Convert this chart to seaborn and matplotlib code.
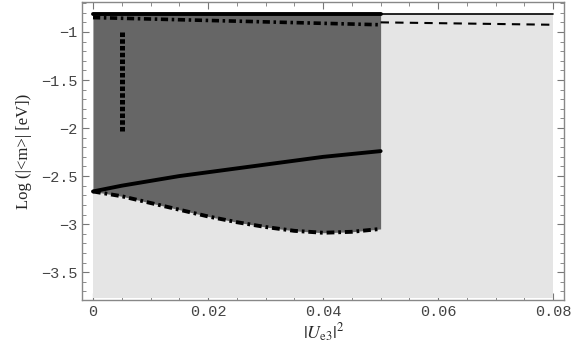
import matplotlib
matplotlib.use("Agg")
import matplotlib.pyplot as plt
import matplotlib.ticker as mticker
import pandas as pd
import seaborn as sns

# |Ue3|^2 grid for the allowed (dark) band
ue3 = [0, 0.005, 0.01, 0.015, 0.02, 0.025, 0.03, 0.035, 0.04, 0.045, 0.05]
# lower dash-dot boundary
lower_dd = [-2.66, -2.71, -2.78, -2.85, -2.92, -2.98, -3.03, -3.07, -3.09, -3.08, -3.05]
# solid line rising from the cusp
lower_solid = [-2.66, -2.60, -2.55, -2.50, -2.46, -2.42, -2.38, -2.34, -2.30, -2.27, -2.24]
# upper edges
top_edge = -0.82
top_solid_x = [0, 0.08]
top_solid_y = [-0.81, -0.81]
top_dd_x = [0, 0.05]
top_dd_y = [-0.85, -0.925]
top_dd2_x = [0.05, 0.08]
top_dd2_y = [-0.90, -0.925]
# light background band
light_x = [0, 0.08]
light_lo, light_hi = -3.77, -0.81
# dotted vertical marker
dot_x = [0.005, 0.005]
dot_y = [-1.0, -2.03]

sns.set_theme(style="ticks")
plt.rcParams['font.family'] = ['Liberation Mono', 'DejaVu Sans']
plt.rcParams['mathtext.fontset'] = 'stix'

fig = plt.figure(figsize=(5.78, 3.54), dpi=100)
ax = fig.add_axes([0.142, 0.1525, 0.834, 0.842])

ax.fill_between(light_x, light_lo, light_hi, color="#e5e5e5", lw=0)
ax.fill_between(ue3, lower_dd, top_edge, color="#666666", lw=0)

dashdot = (0, (2.0, 1.0, 0.7, 1.0))
df = pd.DataFrame({"x": ue3, "dd": lower_dd, "solid": lower_solid})
sns.lineplot(data=df, x="x", y="solid", ax=ax, color="black", lw=2.8)
sns.lineplot(data=df, x="x", y="dd", ax=ax, color="black", lw=2.8, linestyle=dashdot)
sns.lineplot(x=top_solid_x, y=top_solid_y, ax=ax, color="black", lw=1.2)
sns.lineplot(x=[0, 0.05], y=[-0.815, -0.815], ax=ax, color="black", lw=2.8)
sns.lineplot(x=top_dd_x, y=top_dd_y, ax=ax, color="black", lw=2.6, linestyle=dashdot)
sns.lineplot(x=top_dd2_x, y=top_dd2_y, ax=ax, color="black", lw=1.5,
             linestyle=(0, (4, 3)))
sns.lineplot(x=dot_x, y=dot_y, ax=ax, color="black", lw=3.6, estimator=None,
             sort=False, linestyle=(0, (0.9, 0.45)))

ax.set_xlim(-0.0019, 0.0819)
ax.set_ylim(-3.79, -0.6875)

ax.xaxis.set_major_locator(mticker.FixedLocator([0, 0.02, 0.04, 0.06, 0.08]))
ax.xaxis.set_major_formatter(mticker.FixedFormatter(["0", "0.02", "0.04", "0.06", "0.08"]))
ax.xaxis.set_minor_locator(mticker.MultipleLocator(0.005))
ax.yaxis.set_major_locator(mticker.FixedLocator([-3.5, -3, -2.5, -2, -1.5, -1]))
ax.yaxis.set_major_formatter(mticker.FixedFormatter(["\u22123.5", "\u22123", "\u22122.5", "\u22122", "\u22121.5", "\u22121"]))
ax.yaxis.set_minor_locator(mticker.MultipleLocator(0.1))

ax.tick_params(which="both", direction="in", top=True, right=True,
               color="#777777", labelcolor="#444444", labelsize=11)
ax.tick_params(which="major", length=5, width=0.8)
ax.tick_params(which="minor", length=3, width=0.6)
for s in ax.spines.values():
    s.set_color("#888888")
    s.set_linewidth(1.0)

ax.set_xlabel(r"$|U_{\rm e3}|^2$", fontsize=13, family="Liberation Serif", labelpad=2)
ax.set_ylabel("Log (|<m>| [eV])", fontsize=12, family="Liberation Serif", labelpad=6)

fig.savefig("out.png", dpi=100)
